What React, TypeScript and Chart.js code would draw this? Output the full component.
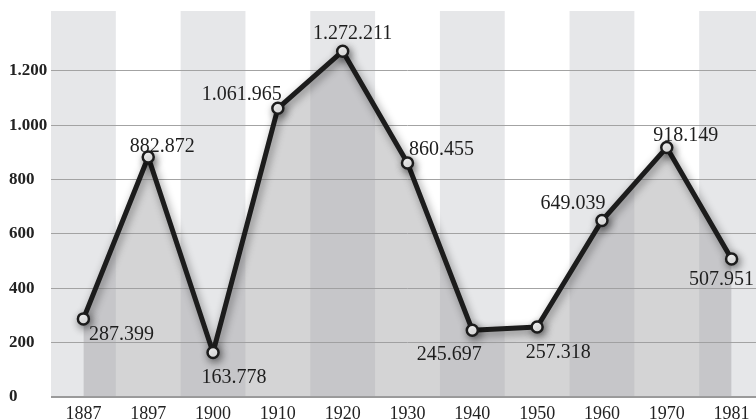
import React, { useEffect, useRef } from "react";
import { Chart, registerables } from "chart.js";

Chart.register(...registerables);

// ---- data ----
const years = ["1887", "1897", "1900", "1910", "1920", "1930", "1940", "1950", "1960", "1970", "1981"];
const population = [287399, 882872, 163778, 1061965, 1272211, 860455, 245697, 257318, 649039, 918149, 507951];
const yTickValues = [0, 200, 400, 600, 800, 1000, 1200];

// label placement relative to each point (dx, dy) – styling only
const labelOffsets: [number, number][] = [
  [38, 16], [14, -10], [21, 25], [-36, -14], [10, -17], [34, -13],
  [-23, 25], [21, 26], [-29, -17], [19, -12], [-10, 21],
];

const fmt = (n: number) => {
  const s = String(Math.round(n));
  return s.replace(/\B(?=(\d{3})+(?!\d))/g, ".");
};

const SERIF = '"Liberation Serif", "Times New Roman", serif';

export default function App() {
  const ref = useRef<HTMLCanvasElement | null>(null);

  useEffect(() => {
    if (!ref.current) return;

    const bandsPlugin = {
      id: "bands",
      beforeDraw(chart: any) {
        const { ctx, chartArea, scales } = chart;
        const x = scales.x;
        const y = scales.y;
        const w = x.width / years.length;
        const bottom = y.getPixelForValue(0);
        ctx.save();
        ctx.fillStyle = "#e6e7e9";
        years.forEach((_, i) => {
          if (i % 2 !== 0) return;
          const cx = x.getPixelForValue(i);
          ctx.fillRect(cx - w / 2, chartArea.top, w, bottom - chartArea.top);
        });
        ctx.restore();
      },
    };

    const shadowPlugin = {
      id: "lineShadow",
      beforeDatasetDraw(chart: any) {
        const ctx = chart.ctx;
        ctx.save();
        ctx.shadowColor = "rgba(0,0,0,0.45)";
        ctx.shadowBlur = 8;
        ctx.shadowOffsetX = 2;
        ctx.shadowOffsetY = 3;
      },
      afterDatasetDraw(chart: any) {
        chart.ctx.restore();
      },
    };

    const labelPlugin = {
      id: "valueLabels",
      afterDatasetsDraw(chart: any) {
        const ctx = chart.ctx;
        const meta = chart.getDatasetMeta(0);
        ctx.save();
        ctx.font = `20px ${SERIF}`;
        ctx.fillStyle = "#1e1e1e";
        ctx.textAlign = "center";
        ctx.textBaseline = "middle";
        meta.data.forEach((pt: any, i: number) => {
          const [dx, dy] = labelOffsets[i];
          ctx.fillText(fmt(population[i]), pt.x + dx, pt.y + dy);
        });
        ctx.restore();
      },
    };

    const chart = new Chart(ref.current, {
      type: "line",
      data: {
        labels: years,
        datasets: [
          {
            data: population.map((p) => p / 1000),
            borderColor: "#1c1c1c",
            borderWidth: 5,
            borderJoinStyle: "round",
            tension: 0,
            fill: "origin",
            backgroundColor: "rgba(157,158,160,0.44)",
            pointRadius: 5.5,
            pointBorderWidth: 2.5,
            pointBackgroundColor: "#ffffff",
            pointBorderColor: "#1c1c1c",
          },
        ],
      },
      options: {
        responsive: false,
        animation: false,
        layout: { padding: { left: 9, top: 11, right: 5, bottom: 0 } },
        plugins: {
          legend: { display: false },
          tooltip: { enabled: false },
          filler: { drawTime: "beforeDatasetsDraw" },
        },
        scales: {
          x: {
            type: "category",
            offset: true,
            grid: { display: false, drawTicks: false },
            border: { display: false },
            afterFit(scale: any) {
              scale.height = 27;
              scale.paddingLeft = 0;
              scale.paddingRight = 0;
            },
            ticks: {
              padding: 6,
              color: "#222",
              font: { family: SERIF, size: 18 },
              maxRotation: 0,
              autoSkip: false,
            },
          },
          y: {
            min: 0,
            max: 1420,
            afterBuildTicks(scale: any) {
              scale.ticks = yTickValues.map((v) => ({ value: v }));
            },
            afterFit(scale: any) {
              scale.width = 42;
              scale.paddingTop = 0;
              scale.paddingBottom = 0;
            },
            border: { display: false },
            grid: {
              drawTicks: false,
              color: (c: any) => (c.tick && c.tick.value === 0 ? "#9a9a9a" : "#a3a3a3"),
              lineWidth: (c: any) => (c.tick && c.tick.value === 0 ? 2 : 1),
            },
            ticks: {
              crossAlign: "far",
              padding: 4,
              color: "#222",
              font: { family: SERIF, size: 17, weight: "bold" },
              callback: (v: any) => fmt(Number(v)),
            },
          },
        },
      },
      plugins: [bandsPlugin, shadowPlugin, labelPlugin],
    } as any);

    return () => chart.destroy();
  }, []);

  return (
    <div
      style={{
        position: "fixed",
        left: 0,
        top: 0,
        width: 756,
        height: 420,
        overflow: "hidden",
        background: "#ffffff",
      }}
    >
      <canvas ref={ref} width={772} height={424} style={{ display: "block" }} />
    </div>
  );
}
